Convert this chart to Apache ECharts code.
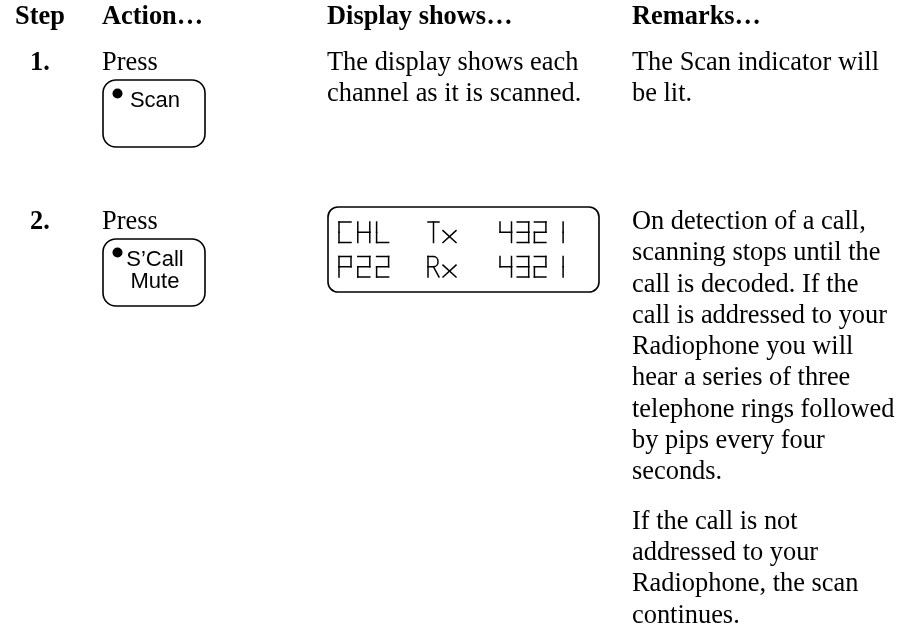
<!DOCTYPE html>
<html><head><meta charset="utf-8">
<script src="https://cdn.jsdelivr.net/npm/echarts@6/dist/echarts.min.js"></script>
<style>html,body{margin:0;padding:0;background:#fff}#c{width:897px;height:626px}</style>
</head><body><div id="c"></div>
<script>
// ---- content ----
const headers = ['Step', 'Action…', 'Display shows…', 'Remarks…'];
const steps = ['1.', '2.'];
const actions = ['Press', 'Press'];
const buttonLabels = [['Scan'], ['S’Call', 'Mute']];
const displayText = [['The display shows each', 'channel as it is scanned.'], []];
const lcdRows = [['CHL', 'Tx', '4321'], ['P22', 'Rx', '4321']];
const remarks = [
  [['The Scan indicator will', 'be lit.']],
  [['On detection of a call,', 'scanning stops until the', 'call is decoded. If the',
    'call is addressed to your', 'Radiophone you will', 'hear a series of three',
    'telephone rings followed', 'by pips every four', 'seconds.'],
   ['If the call is not', 'addressed to your', 'Radiophone, the scan', 'continues.']]
];

// ---- layout ----
const SERIF = 'Liberation Serif';
const SANS = 'Liberation Sans';
const FS = 26.4;
const colX = [15, 102, 327, 632];
const stepX = 30;
const headerBase = 26;
const rowBase = [72, 231];
const lineH = 31.3;
const paraGap = 18;
const MID_SERIF = 9;
const MID_SANS = 7.6;

const els = [];
function txt(s, x, base, opts) {
  opts = opts || {};
  const size = opts.size || FS;
  const fam = opts.family || SERIF;
  const off = opts.off != null ? opts.off : MID_SERIF;
  els.push({
    type: 'text', silent: true,
    style: {
      text: s, x: x, y: base - off,
      font: (opts.bold ? 'bold ' : '') + size + 'px "' + fam + '"',
      fill: '#000', align: opts.align || 'left', verticalAlign: 'middle'
    }
  });
}
const STROKE = { stroke: '#000', lineWidth: 1.5, lineCap: 'square', fill: 'none' };
function seg(x1, y1, x2, y2) {
  els.push({ type: 'line', silent: true, shape: { x1: x1, y1: y1, x2: x2, y2: y2 }, style: STROKE });
}

// headers
headers.forEach((h, i) => txt(h, colX[i], headerBase, { bold: true }));

// rows
steps.forEach((s, r) => {
  const b = rowBase[r];
  txt(s, stepX, b, { bold: true });
  txt(actions[r], colX[1], b);
  const top = b + 8;
  const bx = 103, bw = 102, bh = 67;
  els.push({ type: 'rect', silent: true,
    shape: { x: bx, y: top, width: bw, height: bh, r: 13 },
    style: { fill: 'none', stroke: '#000', lineWidth: 1.6 } });
  els.push({ type: 'circle', silent: true,
    shape: { cx: bx + 14.5, cy: top + 13.5, r: 5 },
    style: { fill: '#000' } });
  buttonLabels[r].forEach((t, k) => {
    txt(t, 155, top + 29 + k * 22, { family: SANS, size: 22, off: MID_SANS, align: 'center' });
  });
  displayText[r].forEach((t, k) => txt(t, colX[2], b + k * lineH));
  let y = b;
  remarks[r].forEach((para, p) => {
    if (p > 0) y += paraGap;
    para.forEach(t => { txt(t, colX[3], y); y += lineH; });
  });
});

// ---- LCD panel (row 2) ----
els.push({ type: 'rect', silent: true,
  shape: { x: 328, y: 207, width: 271, height: 85, r: 10 },
  style: { fill: 'none', stroke: '#000', lineWidth: 1.6 } });

const SEG = { C: 'afed', H: 'fbgec', L: 'fed', P: 'abfge', '2': 'abged', '3': 'abgcd', '4': 'fgbc', '1': 'bc' };
function segChar(ch, x, y, w, h) {
  const m = y + h / 2, R = x + w, B = y + h;
  const S = {
    a: [x, y, R, y], b: [R, y, R, m], c: [R, m, R, B], d: [x, B, R, B],
    e: [x, m, x, B], f: [x, y, x, m], g: [x, m, R, m]
  };
  (SEG[ch] || '').split('').forEach(k => { const s = S[k]; seg(s[0], s[1], s[2], s[3]); });
}
function glyph(ch, x, y, w, h) {
  const m = y + h * 0.5, B = y + h;
  if (ch === 'T') { seg(x, y, x + w, y); seg(x + w / 2, y, x + w / 2, B); }
  else if (ch === 'R') {
    seg(x, y, x, B); seg(x, y, x + w * 0.5, y); seg(x, m, x + w * 0.5, m);
    els.push({ type: 'bezierCurve', silent: true,
      shape: { x1: x + w * 0.5, y1: y, cpx1: x + w * 1.05, cpy1: y, cpx2: x + w * 1.05, cpy2: m, x2: x + w * 0.5, y2: m },
      style: { stroke: '#000', lineWidth: 1.5, fill: 'none' } });
    seg(x + w * 0.5, m, x + w, B);
  } else if (ch === 'x') {
    const t = y + h * 0.42;
    seg(x, t, x + w, B); seg(x + w, t, x, B);
  }
}
const lcdTops = [222, 256.5];
const charH = 20.5;
lcdRows.forEach((row, ri) => {
  const y = lcdTops[ri];
  row[0].split('').forEach((ch, i) => segChar(ch, 339 + i * 18.8, y, 12, charH));
  glyph(row[1][0], 428, y, 11, charH);
  glyph(row[1][1], 443, y, 13, charH);
  row[2].split('').forEach((ch, i) => segChar(ch, 500 + i * 17.2, y, 11.5, charH));
});

const chart = echarts.init(document.getElementById('c'), null, { renderer: 'canvas' });
chart.setOption({ backgroundColor: '#fff', animation: false, graphic: { elements: els } });
</script>
</body></html>
